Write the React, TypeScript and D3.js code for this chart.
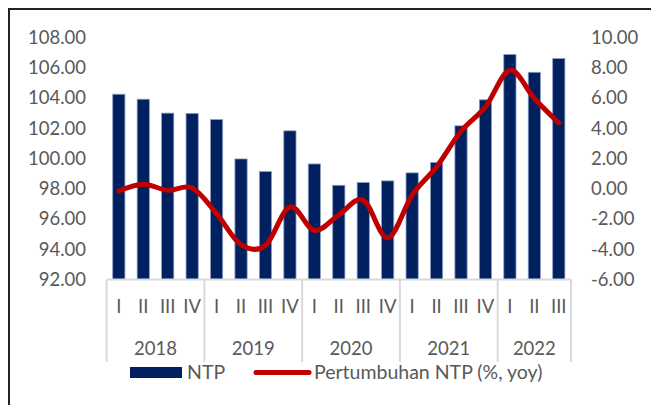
import React, { useEffect, useRef } from 'react';
import * as d3 from 'd3';

// quarterly data, 2018 Q1 .. 2022 Q3
const years = ['2018', '2019', '2020', '2021', '2022'];
const quartersPerYear = [4, 4, 4, 4, 3];
const quarterNames = ['I', 'II', 'III', 'IV'];
const ntp = [
  104.25, 103.92, 103.0, 102.98, 102.58, 99.97, 99.14, 101.83, 99.64, 98.23,
  98.41, 98.52, 99.05, 99.74, 102.16, 103.88, 106.88, 105.7, 106.61,
];
const growth = [
  -0.15, 0.3, -0.1, 0.05, -1.64, -3.7, -3.75, -1.2, -2.76, -1.72, -0.76, -3.25,
  -0.42, 1.45, 3.8, 5.41, 7.84, 5.97, 4.35,
];
const leftTicks = [92, 94, 96, 98, 100, 102, 104, 106, 108];
const rightTicks = [-6, -4, -2, 0, 2, 4, 6, 8, 10];

const App = () => {
  const chartRef = useRef();

  useEffect(() => {
    const width = 651;
    const height = 405;
    const font = 'Lato, "Open Sans", sans-serif';
    const labelColor = '#595959';
    const axisColor = '#d9d9d9';

    const root = d3.select(chartRef.current);
    root.selectAll('*').remove();

    const svg = root
      .append('svg')
      .attr('width', width)
      .attr('height', height)
      .style('position', 'absolute')
      .style('left', 0)
      .style('top', 0)
      .style('background', '#fff');

    // outer frame (only left and top edges visible)
    svg
      .append('path')
      .attr('d', `M9,${height} V9 H${width}`)
      .attr('fill', 'none')
      .attr('stroke', '#222')
      .attr('stroke-width', 2);

    // category list
    const cats = [];
    years.forEach((y, yi) => {
      for (let q = 0; q < quartersPerYear[yi]; q++) {
        cats.push({ year: y, quarter: quarterNames[q], key: `${y}-${q}` });
      }
    });

    const x = d3
      .scaleBand()
      .domain(cats.map((c) => c.key))
      .range([106.6, 571])
      .paddingInner(0.5)
      .paddingOuter(0.25);

    const yLeft = d3.scaleLinear().domain([92, 108]).range([279.5, 37.5]);
    const yRight = d3.scaleLinear().domain([-6, 10]).range([279.5, 37.5]);

    // left axis labels
    svg
      .selectAll('.ltick')
      .data(leftTicks)
      .enter()
      .append('text')
      .attr('x', 86)
      .attr('y', (d) => yLeft(d))
      .attr('dy', '0.35em')
      .attr('text-anchor', 'end')
      .attr('font-family', font)
      .attr('font-size', 18.5)
      .attr('fill', labelColor)
      .text((d) => d.toFixed(2));

    // right axis labels
    svg
      .selectAll('.rtick')
      .data(rightTicks)
      .enter()
      .append('text')
      .attr('x', 591)
      .attr('y', (d) => yRight(d))
      .attr('dy', '0.35em')
      .attr('text-anchor', 'start')
      .attr('font-family', font)
      .attr('font-size', 18.5)
      .attr('fill', labelColor)
      .text((d) => d.toFixed(2));

    // bars
    svg
      .selectAll('.bar')
      .data(cats)
      .enter()
      .append('rect')
      .attr('x', (d) => x(d.key))
      .attr('y', (d, i) => yLeft(ntp[i]))
      .attr('width', x.bandwidth())
      .attr('height', (d, i) => yLeft(92) - yLeft(ntp[i]))
      .attr('fill', '#002060')
      .attr('stroke', '#8ea0c4')
      .attr('stroke-width', 0.8);

    // category axis
    const [x0, x1] = x.range();
    const axisBottom = 362;
    svg
      .append('line')
      .attr('x1', x0)
      .attr('x2', x1)
      .attr('y1', yLeft(92))
      .attr('y2', yLeft(92))
      .attr('stroke', axisColor)
      .attr('stroke-width', 2);

    const step = x.step();
    let start = 0;
    const groups = years.map((y, yi) => {
      const g = { year: y, from: x0 + start * step, to: x0 + (start + quartersPerYear[yi]) * step };
      start += quartersPerYear[yi];
      return g;
    });
    const seps = [x0, ...groups.map((g) => g.to)];
    svg
      .selectAll('.sep')
      .data(seps)
      .enter()
      .append('line')
      .attr('x1', (d) => d)
      .attr('x2', (d) => d)
      .attr('y1', yLeft(92))
      .attr('y2', axisBottom)
      .attr('stroke', axisColor)
      .attr('stroke-width', 2);

    svg
      .selectAll('.qlabel')
      .data(cats)
      .enter()
      .append('text')
      .attr('x', (d) => x(d.key) + x.bandwidth() / 2)
      .attr('y', 307)
      .attr('dy', '0.35em')
      .attr('text-anchor', 'middle')
      .attr('font-family', font)
      .attr('font-size', 18.5)
      .attr('fill', labelColor)
      .text((d) => d.quarter);

    svg
      .selectAll('.ylabel')
      .data(groups)
      .enter()
      .append('text')
      .attr('x', (d) => (d.from + d.to) / 2)
      .attr('y', 349)
      .attr('dy', '0.35em')
      .attr('text-anchor', 'middle')
      .attr('font-family', font)
      .attr('font-size', 18.5)
      .attr('fill', labelColor)
      .text((d) => d.year);

    // growth line (smoothed like Excel)
    const line = d3
      .line()
      .x((d, i) => x(cats[i].key) + x.bandwidth() / 2)
      .y((d) => yRight(d))
      .curve(d3.curveCardinal.tension(0));

    svg
      .append('path')
      .datum(growth)
      .attr('d', line)
      .attr('fill', 'none')
      .attr('stroke', '#c00000')
      .attr('stroke-width', 5)
      .attr('stroke-linecap', 'round')
      .attr('stroke-linejoin', 'round');

    // legend
    const legendY = 372.5;
    svg
      .append('rect')
      .attr('x', 130)
      .attr('y', 367)
      .attr('width', 52)
      .attr('height', 11)
      .attr('fill', '#002060');
    svg
      .append('text')
      .attr('x', 187)
      .attr('y', legendY)
      .attr('dy', '0.35em')
      .attr('font-family', font)
      .attr('font-size', 19.5)
      .attr('fill', labelColor)
      .text('NTP');
    svg
      .append('line')
      .attr('x1', 256)
      .attr('x2', 309)
      .attr('y1', legendY)
      .attr('y2', legendY)
      .attr('stroke', '#c00000')
      .attr('stroke-width', 5)
      .attr('stroke-linecap', 'round');
    svg
      .append('text')
      .attr('x', 314)
      .attr('y', legendY)
      .attr('dy', '0.35em')
      .attr('font-family', font)
      .attr('font-size', 19.5)
      .attr('fill', labelColor)
      .text('Pertumbuhan NTP (%, yoy)');
  }, []);

  return <div ref={chartRef}></div>;
};

export default App;
